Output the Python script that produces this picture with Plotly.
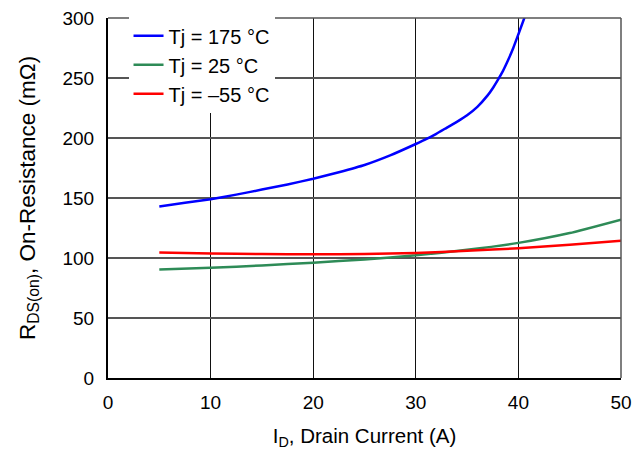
import plotly.graph_objects as go

# Data
x_175 = [5, 7.5, 10, 12.5, 15, 17.5, 20, 22.5, 25, 27.5, 30, 31, 32, 33, 34, 35, 36, 37, 37.5, 38, 38.5, 39, 39.5, 40, 40.6]
r_175 = [143, 146, 149, 152.8, 157, 161.3, 166, 171.5, 177.5, 185.5, 195, 199, 203.5, 208.5, 213.5, 219, 226, 235.5, 241.5, 248.5, 256, 265, 275, 286.5, 300.5]

x_25 = [5, 10, 15, 20, 25, 30, 35, 40, 45, 50]
r_25 = [90.4, 91.8, 93.8, 96.1, 98.8, 102.2, 106.8, 112.6, 120.8, 132]

x_m55 = [5, 10, 15, 20, 25, 30, 35, 40, 45, 50]
r_m55 = [104.5, 103.7, 103.3, 103.1, 103.4, 104.2, 106.0, 108.1, 111.0, 114.3]

names = ["Tj = 175 °C", "Tj = 25 °C", "Tj = –55 °C"]
colors = ["#0000FF", "#2E8B57", "#FF0000"]

x_ticks = [0, 10, 20, 30, 40, 50]
y_ticks = [0, 50, 100, 150, 200, 250, 300]

fig = go.Figure()
for xs, ys, nm, c in zip([x_175, x_25, x_m55], [r_175, r_25, r_m55], names, colors):
    fig.add_trace(go.Scatter(x=xs, y=ys, mode="lines", name=nm,
                             line=dict(color=c, width=2.5, shape="spline", smoothing=0.4)))

fam = "Liberation Sans, Arial, sans-serif"
tick_font = dict(family=fam, size=19, color="black")
xtitle_font = dict(family=fam, size=20.5, color="black")
ytitle_font = dict(family=fam, size=22.5, color="black")
legend_font = dict(family=fam, size=20, color="black")

fig.update_layout(
    width=634, height=451,
    margin=dict(l=108, r=13, t=18, b=73),
    paper_bgcolor="white", plot_bgcolor="white",
    font=tick_font,
    showlegend=True,
    legend=dict(x=0.04, y=1.005, xanchor="left", yanchor="top",
                bgcolor="white", borderwidth=0, font=legend_font,
                itemwidth=30),
    xaxis=dict(range=[0, 50], tickvals=x_ticks, ticks="", showgrid=True,
               gridcolor="#111111", gridwidth=1, zeroline=False,
               showline=True, linecolor="black", linewidth=2,
               ticklabelstandoff=6, automargin=False, tickfont=tick_font,
               title=dict(text="I<sub>D</sub>, Drain Current (A)", font=xtitle_font, standoff=17)),
    yaxis=dict(range=[0, 300], tickvals=y_ticks, ticks="", showgrid=True,
               gridcolor="#555555", gridwidth=1.5, zeroline=False,
               showline=True, linecolor="black", linewidth=2,
               ticklabelstandoff=8, automargin=False, tickfont=tick_font,
               title=dict(text="R<sub>DS(on)</sub>, On-Resistance (mΩ)", font=ytitle_font, standoff=21)),
    shapes=[
        dict(type="line", xref="paper", yref="paper", x0=0, x1=1, y0=1, y1=1,
             line=dict(color="#555555", width=1.5)),
        dict(type="line", xref="paper", yref="paper", x0=1, x1=1, y0=0, y1=1,
             line=dict(color="#555555", width=1.5)),
    ],
)

fig.write_html("out.html")
